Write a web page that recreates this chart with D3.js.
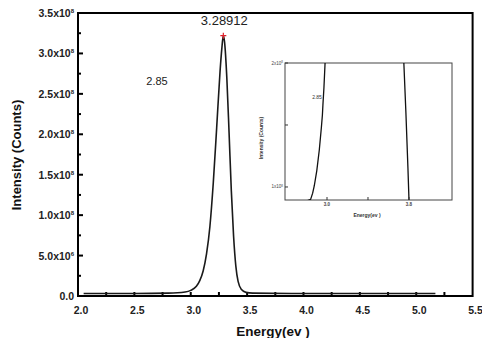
<!DOCTYPE html>
<html>
<head>
<meta charset="utf-8">
<script src="https://cdn.jsdelivr.net/npm/d3@7"></script>
<style>
  body { margin: 0; background: #fff; }
  svg { display: block; font-family: "Liberation Sans", Arial, sans-serif; }
</style>
</head>
<body>
<div id="chart"></div>
<script>
// main spectrum (energy in eV, intensity in 1e8 counts)
const energy = [2.05, 2.50, 2.80, 2.95, 3.00, 3.05, 3.08, 3.11, 3.14, 3.17, 3.20, 3.23, 3.26, 3.275, 3.289, 3.30, 3.32, 3.34, 3.36, 3.38, 3.40, 3.42, 3.45, 3.49, 3.55, 4.00, 4.50, 5.00, 5.17];
const intensity = [0.03, 0.03, 0.035, 0.05, 0.07, 0.12, 0.19, 0.31, 0.52, 0.86, 1.40, 2.08, 2.78, 3.05, 3.22, 3.14, 2.70, 2.02, 1.30, 0.74, 0.37, 0.18, 0.08, 0.045, 0.035, 0.03, 0.03, 0.03, 0.03];
const peakE = 3.289, peakI = 3.22;
const peakLabel = '3.28912';
const shoulderLabel = '2.85';

const xTicks = [2.0, 2.5, 3.0, 3.5, 4.0, 4.5, 5.0, 5.5];
const yTicks = [0, 0.5, 1.0, 1.5, 2.0, 2.5, 3.0, 3.5];
const yTickText = [['0.0', ''], ['5.0x10', '6'], ['1.0x10', '8'], ['1.5x10', '8'], ['2.0x10', '8'], ['2.5x10', '8'], ['3.0x10', '8'], ['3.5x10', '8']];

// inset (zoomed view)
const insetE = [2.78, 2.84, 2.86, 2.876, 2.90, 2.925, 2.945, 2.955, 2.96, 2.97, 2.98, 2.995, 3.3, 3.73, 3.75, 3.77, 3.79, 3.80, 3.82];
const insetI = [0.88, 0.90, 0.95, 1.01, 1.13, 1.30, 1.48, 1.58, 1.66, 1.80, 1.98, 2.25, 3.2, 2.2, 2.0, 1.6, 1.15, 0.9, 0.8];
const insetXTicks = [3.0, 3.4, 3.8];
const insetXTickText = ['3.0', '', '3.8'];
const insetYTicks = [1.0, 1.5, 2.0];
const insetYTickText = [['1x10', '8'], ['', ''], ['2x10', '8']];

const W = 482, H = 338;
const svg = d3.select('#chart').append('svg').attr('width', W).attr('height', H);

const x = d3.scaleLinear().domain([2.0, 5.5]).range([78, 472.6]);
const y = d3.scaleLinear().domain([0, 3.5]).range([296, 13]);

// frame
svg.append('rect')
  .attr('x', x(2.0)).attr('y', y(3.5))
  .attr('width', x(5.5) - x(2.0)).attr('height', y(0) - y(3.5))
  .attr('fill', 'none').attr('stroke', '#000').attr('stroke-width', 2);

// x ticks (inside)
const xMinor = d3.range(2.25, 5.5, 0.25);
svg.append('g').selectAll('line').data(xMinor).enter().append('line')
  .attr('x1', d => x(d)).attr('x2', d => x(d))
  .attr('y1', y(0)).attr('y2', y(0) - 4)
  .attr('stroke', '#000').attr('stroke-width', 2);
svg.append('g').selectAll('text').data(xTicks).enter().append('text')
  .attr('x', d => x(d) + 3).attr('y', 314)
  .attr('text-anchor', 'middle')
  .style('font-size', '10.5px').style('font-weight', 'bold').style('fill', '#222')
  .text(d => d.toFixed(1));

// y ticks (inside)
const yAll = d3.range(0.25, 3.5, 0.25);
svg.append('g').selectAll('line').data(yAll).enter().append('line')
  .attr('x1', x(2.0)).attr('x2', (d, i) => x(2.0) + (i % 2 === 1 ? 5 : 3))
  .attr('y1', d => y(d)).attr('y2', d => y(d))
  .attr('stroke', '#000').attr('stroke-width', 2);
const yl = svg.append('g').selectAll('text').data(yTicks).enter().append('text')
  .attr('x', 74).attr('y', d => y(d) + 4)
  .attr('text-anchor', 'end')
  .style('font-size', '10.5px').style('font-weight', 'bold').style('fill', '#222');
yl.append('tspan').text((d, i) => yTickText[i][0]);
yl.append('tspan').attr('dy', -4).style('font-size', '6px').text((d, i) => yTickText[i][1]);

// axis titles
svg.append('text')
  .attr('transform', `translate(21, 155) rotate(-90)`)
  .attr('text-anchor', 'middle')
  .style('font-size', '13px').style('font-weight', 'bold').style('fill', '#111')
  .text('Intensity (Counts)');
svg.append('text')
  .attr('x', 273).attr('y', 336)
  .attr('text-anchor', 'middle')
  .style('font-size', '13.5px').style('font-weight', 'bold').style('fill', '#111')
  .text('Energy(ev )');

// spectrum
const line = d3.line()
  .x(d => x(d[0])).y(d => y(d[1]))
  .curve(d3.curveMonotoneX);
svg.append('path')
  .datum(energy.map((e, i) => [e, intensity[i]]))
  .attr('d', line)
  .attr('fill', 'none').attr('stroke', '#1a1a1a').attr('stroke-width', 1.6);

// peak marker
svg.append('path')
  .attr('d', `M${x(peakE) - 3},${y(peakI)}h6M${x(peakE)},${y(peakI) - 3}v6`)
  .attr('stroke', '#e0202a').attr('stroke-width', 1.2);
svg.append('text')
  .attr('x', x(peakE) + 1).attr('y', 25)
  .attr('text-anchor', 'middle')
  .style('font-size', '13px').style('fill', '#222')
  .text(peakLabel);
svg.append('text')
  .attr('x', 157).attr('y', 85)
  .attr('text-anchor', 'middle')
  .style('font-size', '11px').style('fill', '#222')
  .text(shoulderLabel);

// ---- inset ----
const ix = d3.scaleLinear().domain([2.59, 4.22]).range([285, 452]);
const iy = d3.scaleLinear().domain([0.895, 2.0]).range([200, 63]);
const inset = svg.append('g');
inset.append('clipPath').attr('id', 'iclip').append('rect')
  .attr('x', 285).attr('y', 63).attr('width', 167).attr('height', 137);
inset.append('rect')
  .attr('x', 285).attr('y', 63).attr('width', 167).attr('height', 137)
  .attr('fill', '#fff').attr('stroke', '#444').attr('stroke-width', 1);
inset.append('path')
  .datum(insetE.map((e, i) => [e, insetI[i]]))
  .attr('clip-path', 'url(#iclip)')
  .attr('d', d3.line().x(d => ix(d[0])).y(d => iy(d[1])))
  .attr('fill', 'none').attr('stroke', '#111').attr('stroke-width', 1.3);
inset.append('g').selectAll('line').data(insetXTicks).enter().append('line')
  .attr('x1', d => ix(d)).attr('x2', d => ix(d))
  .attr('y1', 200).attr('y2', 197)
  .attr('stroke', '#333').attr('stroke-width', 1);
inset.append('g').selectAll('text').data(insetXTicks).enter().append('text')
  .attr('x', d => ix(d)).attr('y', 206)
  .attr('text-anchor', 'middle')
  .style('font-size', '4.5px').style('font-weight', 'bold').style('fill', '#444')
  .text((d, i) => insetXTickText[i]);
inset.append('g').selectAll('line').data(insetYTicks).enter().append('line')
  .attr('x1', 285).attr('x2', 288)
  .attr('y1', d => iy(d)).attr('y2', d => iy(d))
  .attr('stroke', '#333').attr('stroke-width', 1);
const iyl = inset.append('g').selectAll('text').data(insetYTicks).enter().append('text')
  .attr('x', 283).attr('y', d => iy(d) + 1.5)
  .attr('text-anchor', 'end')
  .style('font-size', '4.5px').style('fill', '#444');
iyl.append('tspan').text((d, i) => insetYTickText[i][0]);
iyl.append('tspan').attr('dy', -1.5).style('font-size', '3px').text((d, i) => insetYTickText[i][1]);
inset.append('text')
  .attr('transform', 'translate(263, 138) rotate(-90)')
  .attr('text-anchor', 'middle')
  .style('font-size', '5px').style('font-weight', 'bold').style('fill', '#333')
  .text('Intensity (Counts)');
inset.append('text')
  .attr('x', 367).attr('y', 217)
  .attr('text-anchor', 'middle')
  .style('font-size', '5px').style('font-weight', 'bold').style('fill', '#333')
  .text('Energy(ev )');
inset.append('text')
  .attr('x', 317).attr('y', 99)
  .attr('text-anchor', 'middle')
  .style('font-size', '5px').style('fill', '#333')
  .text(shoulderLabel);
</script>
</body>
</html>
